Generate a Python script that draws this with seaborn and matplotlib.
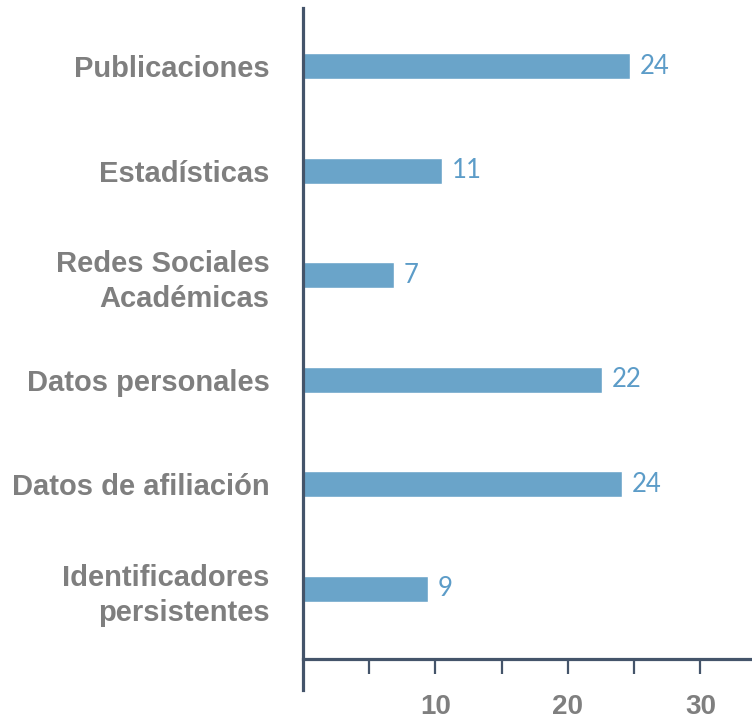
import numpy as np
import pandas as pd
import matplotlib
matplotlib.use('Agg')
import matplotlib.pyplot as plt
from matplotlib.ticker import FixedLocator
import seaborn as sns

sns.set_style('white')
plt.rcParams['font.family'] = ['Liberation Sans', 'DejaVu Sans']

# data
categorias = ['Publicaciones', 'Estadísticas', 'Redes Sociales\nAcadémicas',
              'Datos personales', 'Datos de afiliación',
              'Identificadores\npersistentes']
longitudes = [24.7, 10.5, 6.9, 22.6, 24.1, 9.4]   # bar lengths as drawn
etiquetas = ['24', '11', '7', '22', '24', '9']     # printed value labels

df = pd.DataFrame({'cat': categorias, 'len': longitudes})

eje = '#44546a'
gris = '#7f7f7f'
azul_barra = '#6aa4c9'
azul_texto = '#5c9cc8'

fig = plt.figure(figsize=(7.52, 7.19), dpi=100)
ax = fig.add_axes([303/752, 1-690/719, 449/752, 682/719])

sns.barplot(data=df, x='len', y='cat', orient='h', color=azul_barra,
            width=0.25, saturation=1, ax=ax)

ax.set_xlim(0, 33.9)
ax.set_ylim(5.966, -0.555)
ax.set_xlabel('')
ax.set_ylabel('')

for i, (v, t) in enumerate(zip(longitudes, etiquetas)):
    ax.annotate(t, (v, i), xytext=(7, 0), textcoords='offset points',
                va='center', ha='left', color=azul_texto, fontsize=18.5,
                family=['Lato', 'DejaVu Sans'])

for s in ['top', 'right']:
    ax.spines[s].set_visible(False)
ax.spines['left'].set_color(eje)
ax.spines['left'].set_linewidth(2.3)
ax.spines['bottom'].set_color(eje)
ax.spines['bottom'].set_linewidth(2.3)
ax.spines['bottom'].set_position(('axes', 31/682))

ax.xaxis.set_major_locator(FixedLocator([10, 20, 30]))
ax.xaxis.set_minor_locator(FixedLocator([5, 15, 25]))
ax.tick_params(axis='x', which='both', direction='out', length=11, width=1.6,
               color=eje, bottom=True)
ax.tick_params(axis='x', which='major', pad=14, labelsize=20, labelcolor=gris)
for lbl in ax.get_xticklabels():
    lbl.set_fontweight('bold')

ax.tick_params(axis='y', length=0, pad=24, labelsize=21, labelcolor=gris)
for lbl in ax.get_yticklabels():
    lbl.set_fontweight('bold')
    lbl.set_linespacing(1.3)

fig.savefig('out.png', dpi=100)
